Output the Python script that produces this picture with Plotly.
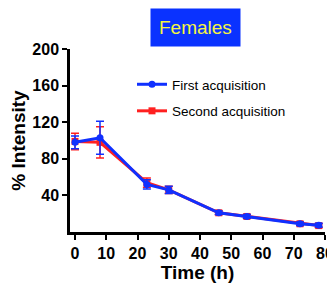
import plotly.graph_objects as go

time_h = [0, 8, 23, 30, 46, 55, 72, 78]
first_acq = [98, 103, 52, 46, 21, 17, 9, 7.5]
first_err = [7, 18, 5, 4, 2, 2, 2, 2]
second_acq = [99, 98, 54, 46, 21, 17, 9, 7]
second_err = [9, 17, 5, 4, 2, 2, 2, 2]
x_ticks = [0, 10, 20, 30, 40, 50, 60, 70, 80]
y_ticks = [40, 80, 120, 160, 200]

# page body has an 8px margin; figure sized to fit the window
OFF = 8
W, H = 335 - OFF, 291 - OFF
L, T = 70 - OFF, 49 - OFF
R = W - (325 - OFF)
B = H - (232 - OFF)
PW, PH = W - L - R, H - T - B

def px_x(page_x):
    return (page_x - OFF - L) / PW

def px_y(page_y):
    return (H - B - (page_y - OFF)) / PH

fig = go.Figure()
fig.add_trace(go.Scatter(
    x=time_h, y=second_acq, name="Second acquisition", mode="lines+markers",
    legendgroup="b", legendrank=2,
    line=dict(color="#ff2020", width=3),
    marker=dict(symbol="square", size=7, color="#ff2020"),
    error_y=dict(type="data", array=second_err, color="#ff2020", thickness=1.5, width=4),
))
fig.add_trace(go.Scatter(
    x=time_h, y=first_acq, name="First acquisition", mode="lines+markers",
    legendgroup="a", legendrank=1,
    line=dict(color="#1030ff", width=3),
    marker=dict(symbol="circle", size=7, color="#1030ff"),
    error_y=dict(type="data", array=first_err, color="#1030ff", thickness=1.5, width=4),
))

fig.update_layout(
    width=W, height=H,
    margin=dict(l=L, r=R, t=T, b=B, autoexpand=False),
    paper_bgcolor="white", plot_bgcolor="white",
    font=dict(family="Liberation Sans, Arial", color="black"),
    showlegend=True,
    legend=dict(x=px_x(132), y=px_y(69), xanchor="left", yanchor="top",
                traceorder="grouped", font=dict(size=13.5, family="Liberation Sans, Arial"),
                bgcolor="rgba(0,0,0,0)", itemwidth=30, tracegroupgap=6),
    annotations=[dict(
        text="Females", x=px_x(195), y=px_y(27), xref="paper", yref="paper",
        showarrow=False, font=dict(size=19, color="#f5f542", family="Liberation Sans, Arial"),
        bgcolor="#0a32ff", borderpad=8, xanchor="center", yanchor="middle",
    )],
)

fig.update_xaxes(
    range=[-1.6, 80], tickvals=x_ticks, showline=True, linecolor="black", linewidth=2.5,
    ticks="outside", ticklen=5, tickwidth=2, tickcolor="black", showgrid=False, zeroline=False,
    automargin=False,
    tickfont=dict(size=16, family="Liberation Sans, Arial", weight="bold"),
    title=dict(text="<b>Time (h)</b>", font=dict(size=19), standoff=4),
)
fig.update_yaxes(
    range=[0, 200], tickvals=y_ticks, showline=True, linecolor="black", linewidth=2.5,
    ticks="outside", ticklen=5, tickwidth=2, tickcolor="black", showgrid=False, zeroline=False,
    automargin=False,
    tickfont=dict(size=16, family="Liberation Sans, Arial", weight="bold"),
    title=dict(text="<b>% Intensity</b>", font=dict(size=19), standoff=4),
)

fig.write_html("out.html")
